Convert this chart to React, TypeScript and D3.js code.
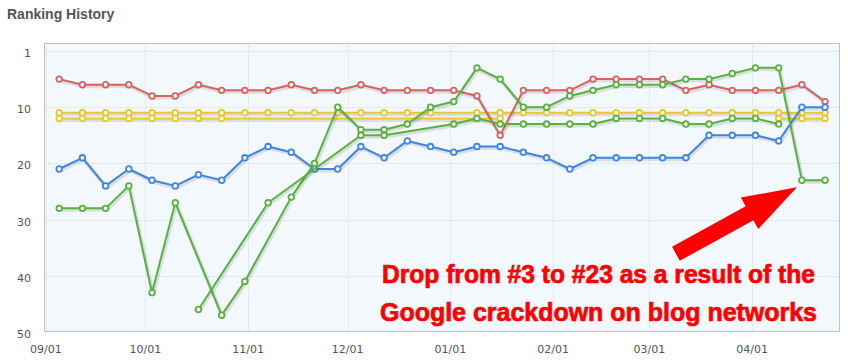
import React from 'react';
import * as d3 from 'd3';

// weekly ranking checks
const weeks = [
  '2011-09-05', '2011-09-12', '2011-09-19', '2011-09-26',
  '2011-10-03', '2011-10-10', '2011-10-17', '2011-10-24', '2011-10-31',
  '2011-11-07', '2011-11-14', '2011-11-21', '2011-11-28',
  '2011-12-05', '2011-12-12', '2011-12-19', '2011-12-26',
  '2012-01-02', '2012-01-09', '2012-01-16', '2012-01-23', '2012-01-30',
  '2012-02-06', '2012-02-13', '2012-02-20', '2012-02-27',
  '2012-03-05', '2012-03-12', '2012-03-19', '2012-03-26',
  '2012-04-02', '2012-04-09', '2012-04-16', '2012-04-23',
];

const redRank = [5, 6, 6, 6, 8, 8, 6, 7, 7, 7, 6, 7, 7, 6, 7, 7, 7, 7, 8, 15, 7, 7, 7, 5, 5, 5, 5, 7, 6, 7, 7, 7, 6, 9];
const blueRank = [21, 19, 24, 21, 23, 24, 22, 23, 19, 17, 18, 21, 21, 17, 19, 16, 17, 18, 17, 17, 18, 19, 21, 19, 19, 19, 19, 19, 15, 15, 15, 16, 10, 10];
const yellowRank = [11, 11, 11, 11, 11, 11, 11, 11, 11, 11, 11, 11, 11, 11, 11, 11, 11, null, 11, 11, 11, 11, 11, 11, 11, 11, 11, 11, 11, 11, 11, 11, 11, 11];
const yellow2EarlyRank = [12, 12, 12, 12, 12, 12, 12, 12, null, null, null, null, null, null, null, null, null, null, null, 12, null, null, null, null, null, null, null, null, null, null, null, null, null, null];
const yellow2LateRank = [null, null, null, null, null, null, null, null, null, null, null, null, null, null, null, null, null, null, null, null, null, null, null, null, null, null, null, null, null, null, null, 12, 12, 12];
const greenRank = [28, 28, 28, 24, 43, 27, null, 47, 41, null, 26, 20, 10, 14, 14, 13, 10, 9, 3, 5, 10, 10, 8, 7, 6, 6, 6, 5, 5, 4, 3, 3, 23, 23];
const green2Rank = [null, null, null, null, null, null, 46, null, null, 27, null, null, null, 15, 15, null, null, 13, 12, 13, 13, 13, 13, 13, 12, 12, 12, 13, 13, 12, 12, 13, null, null];

const yTicks = [0, 10, 20, 30, 40, 50];
const yTickLabels = ['1', '10', '20', '30', '40', '50'];
const xTicks = ['2011-09-01', '2011-10-01', '2011-11-01', '2011-12-01', '2012-01-01', '2012-02-01', '2012-03-01', '2012-04-01'];
const xTickLabels = ['09/01', '10/01', '11/01', '12/01', '01/01', '02/01', '03/01', '04/01'];

const RED = '#d9615e';
const YELLOW = '#e9c927';
const BLUE = '#3d86e6';
const GREEN = '#57b33c';

const series = [
  { values: yellowRank, color: YELLOW },
  { values: yellow2EarlyRank, color: YELLOW },
  { values: yellow2LateRank, color: YELLOW },
  { values: redRank, color: RED },
  { values: blueRank, color: BLUE },
  { values: greenRank, color: GREEN },
  { values: green2Rank, color: GREEN },
];

const W = 848;
const H = 361;
const left = 44, right = 840, top = 43, bottom = 332;

export default function App() {
  const parse = d3.utcParse('%Y-%m-%d');
  const dates = weeks.map(d => parse(d) as Date);

  const x = d3.scaleUtc()
    .domain([new Date(Date.UTC(2011, 7, 31, 10)), new Date(Date.UTC(2012, 3, 27, 12))])
    .range([left, right]);
  const y = d3.scaleLinear().domain([0, 50]).range([51, bottom]);

  const line = d3.line<[Date, number]>()
    .x(d => x(d[0]))
    .y(d => y(d[1]));

  // arrow anchored just below the dropped point
  const tipX = x(dates[32]) - 5;
  const tipY = y(23) + 7;
  const arrow = 'M0,0 L-54,-18 L-54,-8 L-138,-8 L-138,8 L-54,8 L-54,18 Z';

  return (
    <svg width={W} height={H} style={{ position: 'absolute', left: 0, top: 0, background: '#fff' }}>
      <text x={7} y={19} fontFamily="'Liberation Sans', Arial, sans-serif" fontWeight="bold" fontSize={14} fill="#555">
        Ranking History
      </text>

      <rect x={left} y={top} width={right - left} height={bottom - top} fill="#f3f8fc" />

      {xTicks.map(t => {
        const px = Math.round(x(parse(t) as Date)) + 0.5;
        return <line key={t} x1={px} x2={px} y1={top} y2={bottom} stroke="#e4eaef" />;
      })}
      {yTicks.slice(0, -1).map(t => (
        <line key={t} x1={left} x2={right} y1={Math.round(y(t)) + 0.5} y2={Math.round(y(t)) + 0.5} stroke="#e4eaef" />
      ))}
      <rect x={left + 0.5} y={top + 0.5} width={right - left - 1} height={bottom - top - 1} fill="none" stroke="#c2c2c2" />

      {yTicks.map((t, i) => (
        <text key={t} x={31} y={y(t) + 6} textAnchor="end" fontFamily="'DejaVu Sans', Verdana, sans-serif" fontSize={11} fill="#555">
          {yTickLabels[i]}
        </text>
      ))}
      {xTicks.map((t, i) => (
        <text key={t} x={x(parse(t) as Date)} y={353} textAnchor="middle" fontFamily="'DejaVu Sans', Verdana, sans-serif" fontSize={11} fill="#555">
          {xTickLabels[i]}
        </text>
      ))}

      {series.map((s, si) => {
        const pts = s.values
          .map((v, i) => [dates[i], v] as [Date, number | null])
          .filter(p => p[1] != null) as [Date, number][];
        const d = line(pts) || '';
        return (
          <g key={si}>
            <path d={d} fill="none" stroke="rgba(0,0,0,0.1)" strokeWidth={4} transform="translate(1,1.5)" strokeLinejoin="round" />
            <path d={d} fill="none" stroke={s.color} strokeWidth={2} strokeLinejoin="round" />
            {pts.map((p, i) => (
              <circle key={i} cx={x(p[0])} cy={y(p[1])} r={2.8} fill="#fff" stroke={s.color} strokeWidth={1.8} />
            ))}
          </g>
        );
      })}

      <path d={arrow} fill="#fe0000" transform={`translate(${tipX},${tipY}) rotate(-28.8)`} />
      <g fontFamily="'Liberation Sans Narrow', 'Liberation Sans', Arial, sans-serif" fontWeight="bold" fontSize={26} fill="#fe0000" stroke="#fe0000" strokeWidth={0.7}>
        <text x={382} y={283} textLength={433} lengthAdjust="spacingAndGlyphs">Drop from #3 to #23 as a result of the</text>
        <text x={380} y={321} textLength={437} lengthAdjust="spacingAndGlyphs">Google crackdown on blog networks</text>
      </g>
    </svg>
  );
}
